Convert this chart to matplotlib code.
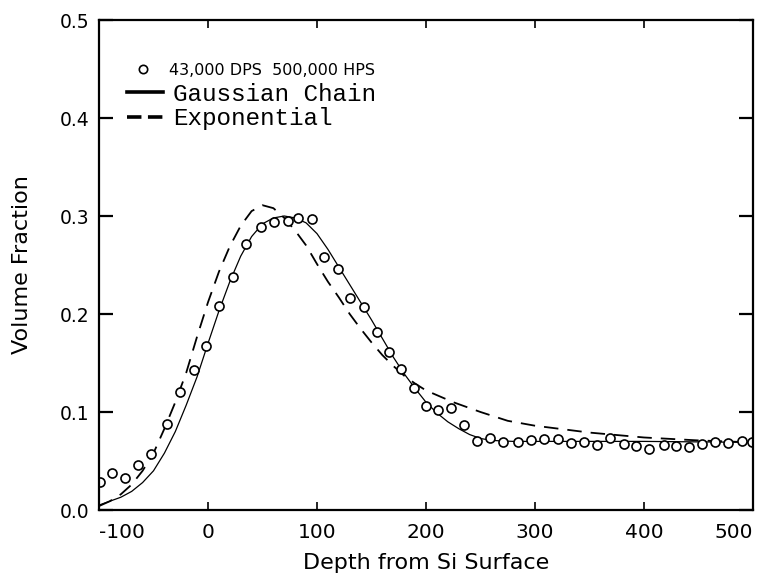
import matplotlib
matplotlib.use("Agg")
import matplotlib.pyplot as plt
from matplotlib.lines import Line2D

# ---- data ----
depth_obs = [-99, -88, -76, -64, -52, -38, -26, -13, -2, 10, 23, 35, 49, 61, 73,
             83, 95, 106, 119, 130, 143, 155, 166, 177, 189, 200, 211, 223, 235,
             247, 259, 271, 284, 296, 308, 321, 333, 345, 357, 369, 382, 393, 405,
             418, 429, 441, 453, 465, 477, 490, 499]
frac_obs = [0.029, 0.038, 0.033, 0.046, 0.057, 0.088, 0.120, 0.143, 0.167, 0.208,
            0.238, 0.271, 0.289, 0.294, 0.295, 0.298, 0.297, 0.258, 0.246, 0.216,
            0.207, 0.182, 0.161, 0.144, 0.125, 0.106, 0.102, 0.104, 0.087, 0.070,
            0.073, 0.069, 0.069, 0.071, 0.072, 0.072, 0.068, 0.069, 0.066, 0.073,
            0.067, 0.065, 0.062, 0.066, 0.065, 0.064, 0.067, 0.069, 0.068, 0.070,
            0.069]

depth_gauss = [-100, -90, -80, -70, -60, -50, -40, -30, -20, -10, 0, 10, 20, 30, 40,
               50, 60, 70, 80, 90, 100, 110, 120, 130, 140, 150, 160, 170, 180, 190,
               200, 210, 220, 230, 240, 250, 260, 280, 300, 400, 500]
frac_gauss = [0.005, 0.009, 0.013, 0.019, 0.028, 0.040, 0.058, 0.080, 0.107, 0.136,
              0.170, 0.203, 0.233, 0.259, 0.279, 0.292, 0.298, 0.300, 0.298, 0.293,
              0.282, 0.266, 0.248, 0.230, 0.212, 0.194, 0.175, 0.156, 0.139, 0.124,
              0.110, 0.099, 0.090, 0.083, 0.077, 0.073, 0.071, 0.070, 0.070, 0.070,
              0.069]

depth_exp = [-100, -90, -80, -70, -60, -50, -40, -30, -20, -10, 0, 10, 20, 30, 40,
             50, 60, 70, 80, 90, 100, 110, 120, 130, 140, 150, 160, 170, 180, 190,
             200, 225, 250, 275, 300, 350, 400, 450, 500]
frac_exp = [0.004, 0.009, 0.016, 0.026, 0.040, 0.058, 0.083, 0.110, 0.140, 0.177,
            0.212, 0.243, 0.269, 0.290, 0.305, 0.311, 0.308, 0.298, 0.285, 0.270,
            0.251, 0.233, 0.217, 0.200, 0.185, 0.171, 0.158, 0.147, 0.137, 0.129,
            0.122, 0.110, 0.100, 0.091, 0.086, 0.079, 0.074, 0.071, 0.069]

x_ticks = [-100, 0, 100, 200, 300, 400, 500]
y_ticks = [0.0, 0.1, 0.2, 0.3, 0.4, 0.5]
obs_label = "43,000 DPS  500,000 HPS"
model_labels = ["Gaussian Chain", "Exponential"]

# ---- figure ----
fig = plt.figure(figsize=(7.61, 5.83), dpi=100)
ax = fig.add_axes([99 / 761, 1 - 510 / 583, (753 - 99) / 761, (510 - 20) / 583])

ax.plot(depth_gauss, frac_gauss, color="black", lw=0.9, solid_capstyle="round")
ax.plot(depth_exp, frac_exp, color="black", lw=1.3, linestyle=(0, (8, 5)))
ax.plot(depth_obs, frac_obs, linestyle="none", marker="o", markersize=6.5,
        markerfacecolor="white", markeredgecolor="black", markeredgewidth=1.2)

ax.set_xlim(-100, 500)
ax.set_ylim(0.0, 0.5)
ax.set_xticks(x_ticks)
ax.set_yticks(y_ticks)
xlabels = ax.set_xticklabels([str(v) for v in x_ticks])
ax.set_yticklabels([f"{v:.1f}" for v in y_ticks])
xlabels[0].set_horizontalalignment("left")
xlabels[-1].set_horizontalalignment("right")

for s in ax.spines.values():
    s.set_linewidth(1.6)

ax.tick_params(axis="y", direction="in", length=10, width=1.6, labelsize=13.5,
               pad=7, right=True)
ax.tick_params(axis="x", direction="in", length=6, width=1.2, labelsize=14.5,
               pad=9, top=True)

ax.set_xlabel("Depth from Si Surface", fontsize=16, labelpad=8)
ax.set_ylabel("Volume Fraction", fontsize=16, labelpad=20)

# legend row for the observed data
h_obs = Line2D([], [], linestyle="none", marker="o", markersize=6, markerfacecolor="white",
               markeredgecolor="black", markeredgewidth=1.2)
leg1 = ax.legend([h_obs], [obs_label], loc="upper left",
                 bbox_to_anchor=(131 / 761, 1 - 63 / 583), bbox_transform=fig.transFigure,
                 frameon=False, borderpad=0, borderaxespad=0, handlelength=1.5,
                 handletextpad=0.9, prop={"family": "DejaVu Sans", "size": 11.5})
ax.add_artist(leg1)

# legend rows for the two models
h_models = [
    Line2D([], [], color="black", lw=2.6),
    Line2D([], [], color="black", lw=2.6, linestyle=(0, (4, 1.8))),
]
leg2 = ax.legend(h_models, model_labels, loc="upper left",
                 bbox_to_anchor=(127 / 761, 1 - 83 / 583), bbox_transform=fig.transFigure,
                 frameon=False, borderpad=0, borderaxespad=0, handlelength=1.5,
                 handletextpad=0.4, labelspacing=0.05,
                 prop={"family": "Liberation Mono", "size": 17.5})

fig.savefig("out.png", dpi=100, facecolor="white")
